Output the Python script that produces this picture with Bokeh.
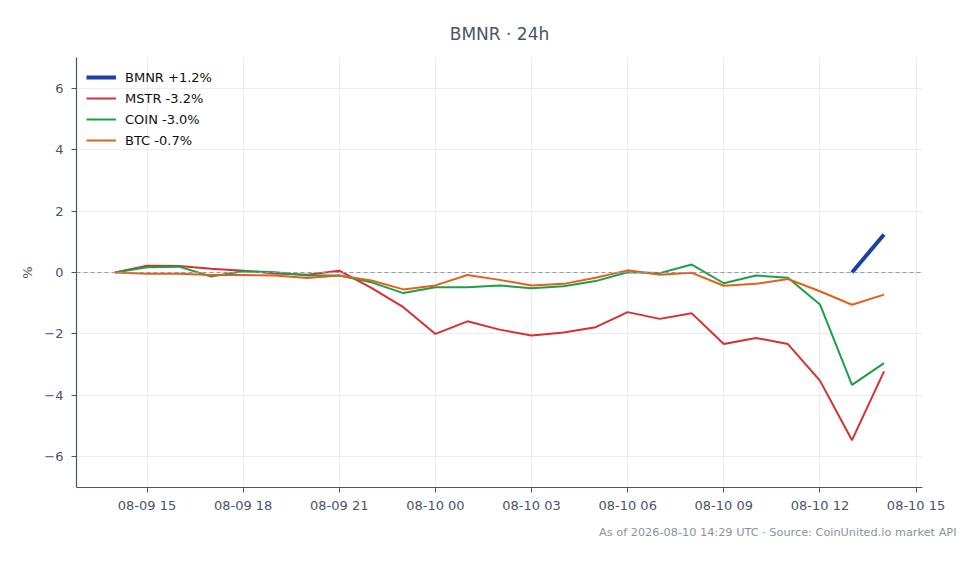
import numpy as np
import pandas as pd
from bokeh.plotting import figure
from bokeh.models import (ColumnDataSource, Span, Title, FixedTicker,
                          DatetimeTickFormatter, CustomJSTickFormatter, Range1d)
from bokeh.embed import file_html
from bokeh.resources import INLINE

# data: hourly % change over the last 24h
times = pd.date_range("2026-08-09 14:00", periods=25, freq="h")

bmnr = [np.nan] * 23 + [0.0, 1.24]
mstr = [0.0, 0.22, 0.21, 0.12, 0.06, -0.03, -0.07, 0.06, -0.5, -1.13,
        -2.0, -1.59, -1.86, -2.05, -1.95, -1.78, -1.29, -1.51, -1.33,
        -2.33, -2.13, -2.33, -3.52, -5.46, -3.22]
coin = [0.0, 0.17, 0.19, -0.13, 0.04, 0.01, -0.1, -0.1, -0.32, -0.67,
        -0.48, -0.48, -0.42, -0.51, -0.45, -0.28, 0.01, -0.02, 0.26,
        -0.35, -0.1, -0.17, -1.04, -3.66, -2.95]
btc = [0.0, -0.04, -0.04, -0.08, -0.08, -0.1, -0.18, -0.1, -0.26, -0.55,
       -0.42, -0.08, -0.24, -0.42, -0.37, -0.17, 0.07, -0.07, -0.01,
       -0.43, -0.37, -0.21, -0.61, -1.05, -0.72]

series = [
    ("BMNR +1.2%", bmnr, "#1f3fa6", 4),
    ("MSTR -3.2%", mstr, "#d63031", 2),
    ("COIN -3.0%", coin, "#1e9e48", 2),
    ("BTC -0.7%", btc, "#e0621a", 2),
]

x_ticks = ["2026-08-09 15:00", "2026-08-09 18:00", "2026-08-09 21:00",
           "2026-08-10 00:00", "2026-08-10 03:00", "2026-08-10 06:00",
           "2026-08-10 09:00", "2026-08-10 12:00", "2026-08-10 15:00"]
y_ticks = [-6, -4, -2, 0, 2, 4, 6]

TEXT = "#4a5568"
FONT = "DejaVu Sans"

# 5% padding on each side of the 24h window
pad = pd.Timedelta(minutes=72)
p = figure(width=964, height=548, x_axis_type="datetime",
           x_range=Range1d(times[0] - pad, times[-1] + pad),
           y_range=Range1d(-7, 7),
           output_backend="svg", toolbar_location=None,
           min_border_left=76, min_border_right=42,
           min_border_top=57, min_border_bottom=61)

p.title.text = "BMNR · 24h"
p.title.align = "center"
p.title.text_font = FONT
p.title.text_font_size = "17px"
p.title.text_font_style = "normal"
p.title.text_color = TEXT
p.title.standoff = 27

p.add_layout(Title(text="As of 2026-08-10 14:29 UTC · Source: CoinUnited.io market API",
                   align="right", text_font=FONT, text_font_size="11.3px",
                   text_font_style="normal", text_color="#8a929e",
                   offset=-34, standoff=16), "below")

p.outline_line_color = None
p.background_fill_color = "white"
p.border_fill_color = "white"

for ax in (p.xaxis[0], p.yaxis[0]):
    ax.axis_line_color = TEXT
    ax.axis_line_width = 1.2
    ax.major_tick_line_color = TEXT
    ax.major_tick_out = 5
    ax.major_tick_in = 0
    ax.minor_tick_line_color = None
    ax.major_label_text_font = FONT
    ax.major_label_text_font_size = "13px"
    ax.major_label_text_color = TEXT

p.xaxis.ticker = FixedTicker(ticks=[pd.Timestamp(t).value / 1e6 for t in x_ticks])
p.xaxis.formatter = DatetimeTickFormatter(hours="%m-%d %H", days="%m-%d %H",
                                          hourmin="%m-%d %H", minutes="%m-%d %H")
p.xaxis.major_label_standoff = 5

p.yaxis.ticker = FixedTicker(ticks=y_ticks)
p.yaxis.formatter = CustomJSTickFormatter(
    code="return tick < 0 ? '\\u2212' + Math.abs(tick) : String(tick);")
p.yaxis.axis_label = "%"
p.yaxis.axis_label_text_font = FONT
p.yaxis.axis_label_text_font_size = "13px"
p.yaxis.axis_label_text_font_style = "normal"
p.yaxis.axis_label_text_color = TEXT
p.yaxis.axis_label_standoff = 6
p.yaxis.major_label_standoff = 8

p.grid.grid_line_color = "#ebedf0"
p.grid.grid_line_width = 1

p.add_layout(Span(location=0, dimension="width", line_color="#8f9bb3",
                  line_width=1, line_dash="4 3"))

for name, vals, color, w in series:
    src = ColumnDataSource(dict(t=times, v=vals))
    p.line("t", "v", source=src, line_color=color, line_width=w,
           legend_label=name)

p.legend.location = "top_left"
p.legend.border_line_alpha = 0
p.legend.background_fill_alpha = 0
p.legend.margin = 4
p.legend.padding = 6
p.legend.spacing = 1
p.legend.glyph_width = 30
p.legend.label_standoff = 9
p.legend.label_text_font = FONT
p.legend.label_text_font_size = "13px"
p.legend.label_text_color = "#111111"

open("out.html", "w").write(file_html(p, INLINE))
